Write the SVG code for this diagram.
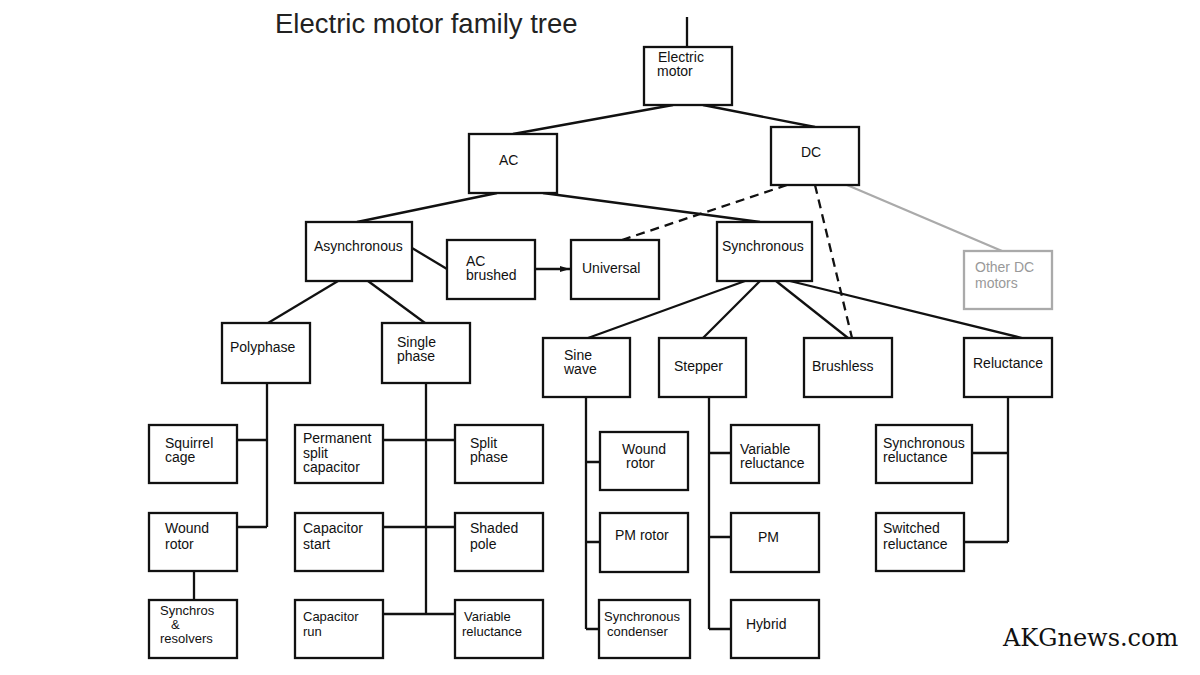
<svg xmlns="http://www.w3.org/2000/svg" width="1200" height="675" viewBox="0 0 1200 675">
<style>
.b{fill:#fff;stroke:#111;stroke-width:2.3}
.g{fill:#fff;stroke:#aaa;stroke-width:2.3}
.t{font-family:"Liberation Sans",Arial,sans-serif;font-size:14px;fill:#111}
.s{font-size:13px}
.tg{font-family:"Liberation Sans",Arial,sans-serif;font-size:14px;fill:#999}
.c{fill:none;stroke:#111;stroke-width:2.3}
.d{fill:none;stroke:#111;stroke-width:2.3;stroke-dasharray:9 6}
.cg{fill:none;stroke:#aaa;stroke-width:2.3}
</style>
<defs>
<marker id="ar" viewBox="0 0 10 6" refX="10" refY="3" markerWidth="10" markerHeight="6" markerUnits="userSpaceOnUse" orient="auto">
<path d="M0,0 L10,3 L0,6 Z" fill="#111"/>
</marker>
</defs>
<rect width="1200" height="675" fill="#fff"/>
<text x="275" y="33" font-family="Liberation Sans, Arial, sans-serif" font-size="27.5" fill="#222">Electric motor family tree</text>
<g id="connectors">
<path class="c" d="M687 17 V47"/>
<path class="c" d="M673 105 L513 134"/>
<path class="c" d="M703 105 L815 127"/>
<path class="c" d="M497 193 L357 222"/>
<path class="c" d="M543 193 L760 222"/>
<path class="c" d="M412 248 L447 269"/>
<path class="c" d="M535 269 H570" marker-end="url(#ar)"/>
<path class="d" d="M787 185 L622 240"/>
<path class="d" d="M815 185 L852 338"/>
<path class="cg" d="M847 185 L1002 251"/>
<path class="c" d="M338 281 L268 323"/>
<path class="c" d="M368 281 L425 323"/>
<path class="c" d="M745 281 L588 338"/>
<path class="c" d="M760 281 L703 338"/>
<path class="c" d="M776 281 L848 338"/>
<path class="c" d="M790 281 L1022 338"/>
<path class="c" d="M267 383 V527 M237 440 H267 M237 527 H267"/>
<path class="c" d="M194 571 V600"/>
<path class="c" d="M426 383 V614 M383 440 H455 M383 527 H455 M383 614 H455"/>
<path class="c" d="M586 397 V629 M586 462 H600 M586 542 H600 M586 629 H599"/>
<path class="c" d="M709 397 V629 M709 453 H731 M709 537 H731 M709 629 H731"/>
<path class="c" d="M1008 397 V542 M972 453 H1008 M964 542 H1008"/>
</g>
<g id="electric-motor"><rect class="b" x="644" y="47" width="88" height="58"/><text class="t" x="658" y="62">Electric</text><text class="t" x="657" y="76">motor</text></g>
<g id="ac"><rect class="b" x="469" y="134" width="88" height="59"/><text class="t" x="499" y="165">AC</text></g>
<g id="dc"><rect class="b" x="771" y="127" width="88" height="58"/><text class="t" x="801" y="157">DC</text></g>
<g id="asynchronous"><rect class="b" x="306" y="222" width="106" height="59"/><text class="t" x="314" y="251">Asynchronous</text></g>
<g id="ac-brushed"><rect class="b" x="447" y="240" width="88" height="59"/><text class="t" x="466" y="266">AC</text><text class="t" x="466" y="280">brushed</text></g>
<g id="universal"><rect class="b" x="571" y="240" width="88" height="59"/><text class="t" x="582" y="273">Universal</text></g>
<g id="synchronous"><rect class="b" x="717" y="222" width="95" height="59"/><text class="t" x="722" y="251">Synchronous</text></g>
<g id="other-dc"><rect class="g" x="964" y="251" width="88" height="58"/><text class="tg" x="975" y="272">Other DC</text><text class="tg" x="975" y="288">motors</text></g>
<g id="polyphase"><rect class="b" x="222" y="323" width="88" height="60"/><text class="t" x="230" y="352">Polyphase</text></g>
<g id="single-phase"><rect class="b" x="382" y="323" width="88" height="60"/><text class="t" x="397" y="347">Single</text><text class="t" x="397" y="361">phase</text></g>
<g id="sine-wave"><rect class="b" x="543" y="338" width="87" height="59"/><text class="t" x="564" y="360">Sine</text><text class="t" x="564" y="374">wave</text></g>
<g id="stepper"><rect class="b" x="659" y="338" width="87" height="59"/><text class="t" x="674" y="371">Stepper</text></g>
<g id="brushless"><rect class="b" x="804" y="338" width="88" height="59"/><text class="t" x="812" y="371">Brushless</text></g>
<g id="reluctance"><rect class="b" x="964" y="338" width="88" height="59"/><text class="t" x="973" y="368">Reluctance</text></g>
<g id="squirrel-cage"><rect class="b" x="149" y="425" width="88" height="58"/><text class="t" x="165" y="448">Squirrel</text><text class="t" x="165" y="462">cage</text></g>
<g id="wound-rotor-1"><rect class="b" x="149" y="513" width="88" height="58"/><text class="t" x="165" y="533">Wound</text><text class="t" x="165" y="549">rotor</text></g>
<g id="synchros"><rect class="b" x="149" y="600" width="88" height="58"/><text class="t s" x="160" y="615">Synchros</text><text class="t s" x="171" y="629">&amp;</text><text class="t s" x="160" y="643">resolvers</text></g>
<g id="permanent-split"><rect class="b" x="295" y="425" width="88" height="58"/><text class="t" x="303" y="443">Permanent</text><text class="t" x="303" y="458">split</text><text class="t" x="303" y="472">capacitor</text></g>
<g id="split-phase"><rect class="b" x="455" y="425" width="88" height="58"/><text class="t" x="470" y="448">Split</text><text class="t" x="470" y="462">phase</text></g>
<g id="capacitor-start"><rect class="b" x="295" y="513" width="88" height="58"/><text class="t" x="303" y="533">Capacitor</text><text class="t" x="303" y="549">start</text></g>
<g id="shaded-pole"><rect class="b" x="455" y="513" width="88" height="58"/><text class="t" x="470" y="533">Shaded</text><text class="t" x="470" y="549">pole</text></g>
<g id="capacitor-run"><rect class="b" x="295" y="600" width="88" height="58"/><text class="t s" x="303" y="621">Capacitor</text><text class="t s" x="303" y="636">run</text></g>
<g id="variable-reluctance-1"><rect class="b" x="455" y="600" width="88" height="58"/><text class="t s" x="464" y="621">Variable</text><text class="t s" x="462" y="636">reluctance</text></g>
<g id="wound-rotor-2"><rect class="b" x="600" y="432" width="88" height="58"/><text class="t" x="622" y="454">Wound</text><text class="t" x="626" y="468">rotor</text></g>
<g id="pm-rotor"><rect class="b" x="600" y="513" width="88" height="59"/><text class="t" x="615" y="540">PM rotor</text></g>
<g id="synchronous-condenser"><rect class="b" x="599" y="600" width="91" height="58"/><text class="t s" x="604" y="621">Synchronous</text><text class="t s" x="607" y="636">condenser</text></g>
<g id="variable-reluctance-2"><rect class="b" x="731" y="425" width="88" height="58"/><text class="t" x="740" y="454">Variable</text><text class="t" x="740" y="468">reluctance</text></g>
<g id="pm"><rect class="b" x="731" y="513" width="88" height="59"/><text class="t" x="758" y="542">PM</text></g>
<g id="hybrid"><rect class="b" x="731" y="600" width="88" height="58"/><text class="t" x="746" y="629">Hybrid</text></g>
<g id="synchronous-reluctance"><rect class="b" x="876" y="425" width="96" height="58"/><text class="t" x="883" y="448">Synchronous</text><text class="t" x="883" y="462">reluctance</text></g>
<g id="switched-reluctance"><rect class="b" x="876" y="513" width="88" height="58"/><text class="t" x="883" y="533">Switched</text><text class="t" x="883" y="549">reluctance</text></g>
<text x="1003" y="646" font-family="DejaVu Serif, serif" font-size="24" fill="#111">AKGnews.com</text>
</svg>
